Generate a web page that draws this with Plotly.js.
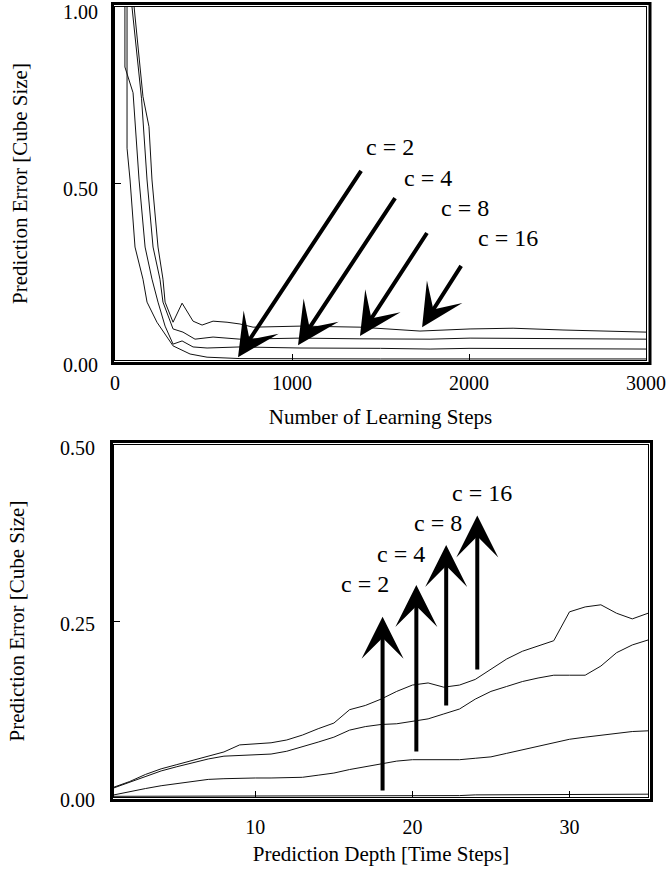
<!DOCTYPE html>
<html>
<head>
<meta charset="utf-8">
<script src="https://cdn.plot.ly/plotly-3.0.1.min.js"></script>
<style>html,body{margin:0;padding:0;background:#fff;}#chart{width:668px;height:870px;}</style>
</head>
<body>
<div id="chart"></div>
<script>
// ---------- Top panel data: prediction error vs. number of learning steps ----------
var stepsC2 = [68, 68, 85, 113, 158, 181, 237, 328, 424, 520, 706, 1000, 1500, 2000, 2500, 3000];
var errC2   = [1.00, 0.60, 0.51, 0.32, 0.229, 0.164, 0.107, 0.040, 0.017, 0.008, 0.004, 0.003, 0.003, 0.003, 0.003, 0.003];

var stepsC4 = [56, 56, 102, 136, 170, 209, 243, 283, 328, 379, 441, 520, 706, 1045, 1500, 1780, 2000, 2500, 3000];
var errC4   = [1.00, 0.83, 0.757, 0.51, 0.32, 0.229, 0.164, 0.096, 0.045, 0.054, 0.037, 0.034, 0.037, 0.034, 0.033, 0.031, 0.033, 0.032, 0.031];

var stepsC8 = [96, 150, 181, 215, 254, 271, 328, 384, 452, 554, 706, 1045, 1384, 1780, 2006, 2500, 3000];
var errC8   = [1.00, 0.74, 0.51, 0.32, 0.229, 0.164, 0.088, 0.079, 0.059, 0.065, 0.059, 0.062, 0.060, 0.059, 0.062, 0.061, 0.059];

var stepsC16 = [108, 158, 192, 209, 243, 271, 283, 328, 379, 441, 492, 554, 633, 706, 780, 1045, 1384, 1723, 2006, 2249, 2531, 3000];
var errC16   = [1.00, 0.746, 0.661, 0.51, 0.32, 0.229, 0.164, 0.107, 0.161, 0.110, 0.099, 0.110, 0.107, 0.102, 0.093, 0.096, 0.093, 0.082, 0.088, 0.090, 0.085, 0.079];

// ---------- Bottom panel data: prediction error vs. prediction depth ----------
var depth = [1,2,3,4,5,6,7,8,9,10,11,12,13,14,15,16,17,18,19,20,21,22,23,24,25,26,27,28,29,30,31,32,33,34,35];
var depthErrC16 = [0.014,0.022,0.032,0.040,0.046,0.052,0.058,0.064,0.074,0.076,0.077,0.081,0.088,0.097,0.105,0.124,0.130,0.139,0.150,0.159,0.162,0.156,0.159,0.167,0.181,0.196,0.207,0.214,0.222,0.263,0.270,0.273,0.261,0.253,0.261];
var depthErrC8  = [0.013,0.021,0.030,0.037,0.043,0.049,0.054,0.058,0.059,0.060,0.061,0.065,0.071,0.078,0.085,0.095,0.100,0.103,0.104,0.107,0.111,0.118,0.125,0.139,0.150,0.157,0.164,0.169,0.173,0.173,0.173,0.186,0.205,0.216,0.223];
var depthErrC4  = [0.003,0.008,0.012,0.016,0.019,0.022,0.025,0.026,0.027,0.027,0.027,0.027,0.028,0.031,0.034,0.039,0.043,0.048,0.051,0.053,0.053,0.053,0.053,0.055,0.057,0.062,0.067,0.072,0.077,0.082,0.085,0.088,0.090,0.093,0.094];
var depthErrC2  = [0.001,0.001,0.001,0.001,0.001,0.001,0.001,0.001,0.001,0.002,0.002,0.002,0.002,0.002,0.002,0.002,0.002,0.002,0.002,0.002,0.002,0.002,0.002,0.003,0.003,0.003,0.003,0.003,0.003,0.003,0.003,0.003,0.004,0.004,0.004];

// ---------- Tick labels and texts ----------
var topXTicks = [0, 1000, 2000, 3000];
var topXTickText = ['0', '1000', '2000', '3000'];
var topYTicks = [0, 0.5, 1];
var topYTickText = ['0.00', '0.50', '1.00'];
var botXTicks = [10, 20, 30];
var botXTickText = ['10', '20', '30'];
var botYTicks = [0, 0.25, 0.5];
var botYTickText = ['0.00', '0.25', '0.50'];
var curveLabels = ['c = 2', 'c = 4', 'c = 8', 'c = 16'];

// ---------- Layout helpers (pixel -> paper) ----------
var ML = 114, MR = 20, MT = 7, MB = 73, W = 668, H = 870;
var PW = W - ML - MR, PH = H - MT - MB;
function xd(px) { return (px - ML) / PW; }
function yd(py) { return (H - MB - py) / PH; }

var FONT = 'Liberation Serif, Times New Roman, serif';
var lineStyle = {color: '#111', width: 1};

function tr(x, y, xa, ya) {
  return {x: x, y: y, xaxis: xa, yaxis: ya, type: 'scatter', mode: 'lines', line: lineStyle, hoverinfo: 'skip'};
}

var data = [
  tr(stepsC2, errC2, 'x', 'y'),
  tr(stepsC4, errC4, 'x', 'y'),
  tr(stepsC8, errC8, 'x', 'y'),
  tr(stepsC16, errC16, 'x', 'y'),
  tr(depth, depthErrC2, 'x2', 'y2'),
  tr(depth, depthErrC4, 'x2', 'y2'),
  tr(depth, depthErrC8, 'x2', 'y2'),
  tr(depth, depthErrC16, 'x2', 'y2')
];

function axisBase() {
  return {
    showgrid: false, zeroline: false, showline: true, mirror: true,
    linecolor: '#000', linewidth: 1,
    ticks: 'inside', ticklen: 6, tickwidth: 1, tickcolor: '#000',
    tickfont: {family: FONT, size: 20, color: '#000'},
    tickmode: 'array', fixedrange: true, ticklabeloverflow: 'allow'
  };
}

var titleFont = {family: FONT, size: 21, color: '#000'};

var xaxis = Object.assign(axisBase(), {
  domain: [xd(115), xd(646)], range: [0, 3000], anchor: 'y',
  tickvals: topXTicks, ticktext: topXTickText, ticklabelstandoff: 5,
  title: {text: 'Number of Learning Steps', font: titleFont, standoff: 16}
});
var yaxis = Object.assign(axisBase(), {
  domain: [yd(360), yd(7)], range: [0, 1], anchor: 'x',
  tickvals: topYTicks, ticktext: topYTickText, ticklabelstandoff: 12, ticklabelshift: 5,
  title: {text: 'Prediction Error [Cube Size]', font: titleFont, standoff: 29}
});
var xaxis2 = Object.assign(axisBase(), {
  domain: [xd(114), xd(648)], range: [1, 35], anchor: 'y2',
  tickvals: botXTicks, ticktext: botXTickText, ticklabelstandoff: 12,
  title: {text: 'Prediction Depth [Time Steps]', font: titleFont, standoff: 9}
});
var yaxis2 = Object.assign(axisBase(), {
  domain: [yd(797), yd(445)], range: [0, 0.5], anchor: 'x2',
  tickvals: botYTicks, ticktext: botYTickText, ticklabelstandoff: 14, ticklabelshift: 3,
  title: {text: 'Prediction Error [Cube Size]', font: titleFont, standoff: 29}
});

// Outer thick frames
var shapes = [
  {type: 'rect', xref: 'paper', yref: 'paper', x0: xd(112.5), x1: xd(650), y0: yd(363.5), y1: yd(3.5), line: {color: '#000', width: 3}},
  {type: 'rect', xref: 'paper', yref: 'paper', x0: xd(111.5), x1: xd(651.5), y0: yd(800.5), y1: yd(441.5), line: {color: '#000', width: 3}}
];

// Arrows and labels
var topArrowTip  = [[695, 0.008], [1034, 0.042], [1384, 0.068], [1735, 0.093]];
var topArrowTail = [[1396, 0.540], [1588, 0.463], [1768, 0.364], [1961, 0.271]];
var topLabelPos  = [[1554, 0.602], [1770, 0.517], [1977, 0.432], [2220, 0.347]];
var botArrowTip  = [[18.1, 0.256], [20.25, 0.301], [22.15, 0.358], [24.13, 0.400]];
var botArrowTail = [[18.1, 0.007], [20.25, 0.0625], [22.15, 0.128], [24.13, 0.179]];
var botLabelPos  = [[16.95, 0.303], [19.3, 0.345], [21.65, 0.389], [24.45, 0.432]];

var annotations = [];
function addArrows(tips, tails, labels, xr, yr) {
  for (var i = 0; i < tips.length; i++) {
    annotations.push({
      xref: xr, yref: yr, axref: xr, ayref: yr,
      x: tips[i][0], y: tips[i][1], ax: tails[i][0], ay: tails[i][1],
      text: '', showarrow: true, arrowhead: 3, arrowsize: 1.75, arrowwidth: 4, arrowcolor: '#000', standoff: 0
    });
    annotations.push({
      xref: xr, yref: yr, x: labels[i][0], y: labels[i][1],
      text: curveLabels[i], showarrow: false,
      font: {family: FONT, size: 24, color: '#000'}
    });
  }
}
addArrows(topArrowTip, topArrowTail, topLabelPos, 'x', 'y');
addArrows(botArrowTip, botArrowTail, botLabelPos, 'x2', 'y2');

var layout = {
  width: W, height: H,
  margin: {l: ML, r: MR, t: MT, b: MB, pad: 0},
  paper_bgcolor: '#fff', plot_bgcolor: '#fff',
  showlegend: false,
  font: {family: FONT, color: '#000'},
  xaxis: xaxis, yaxis: yaxis, xaxis2: xaxis2, yaxis2: yaxis2,
  shapes: shapes, annotations: annotations
};

Plotly.newPlot('chart', data, layout, {displayModeBar: false, staticPlot: true});
</script>
</body>
</html>
